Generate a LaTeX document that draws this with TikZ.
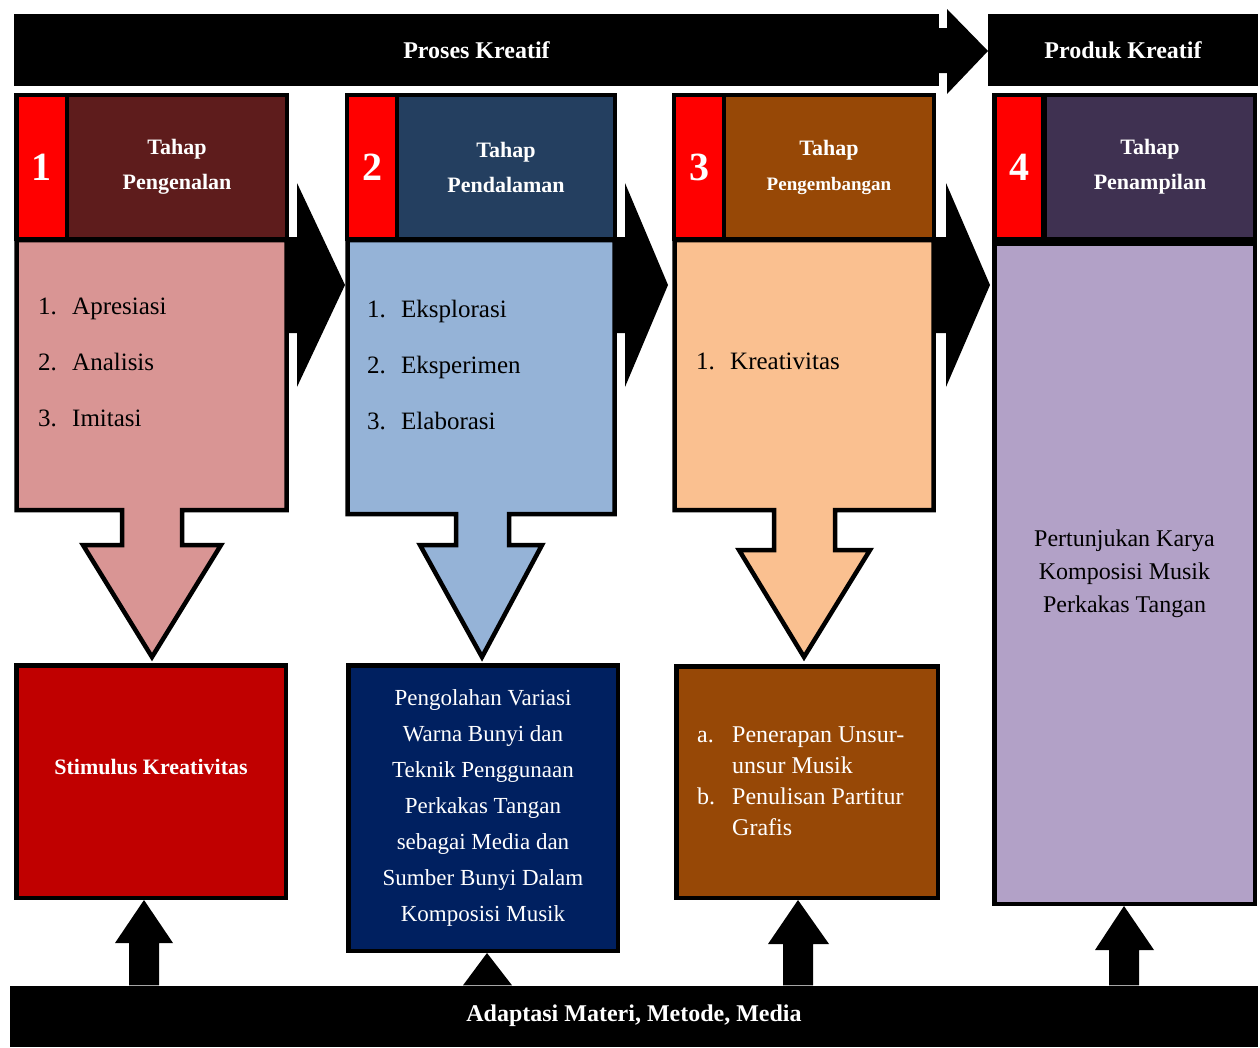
\documentclass[tikz,border=0pt]{standalone}
\usepackage{fontspec}
\setmainfont{Liberation Serif}
\usepackage{tikz}

\definecolor{maroon1}{HTML}{5E1C1C}
\definecolor{navy1}{HTML}{243F60}
\definecolor{brown1}{HTML}{974806}
\definecolor{purple1}{HTML}{3F3151}
\definecolor{pink1}{HTML}{D99594}
\definecolor{blue1}{HTML}{95B3D7}
\definecolor{peach1}{HTML}{FAC090}
\definecolor{lilac1}{HTML}{B2A1C7}
\definecolor{red2}{HTML}{C00000}
\definecolor{navy2}{HTML}{002060}

\newcommand{\lnum}[1]{\makebox[34pt][l]{#1}}

\tikzset{
  bodyline/.style={draw=black, line width=4.5pt, line join=miter},
  numbox/.style={fill=red, text=white, font=\fontsize{40}{40}\selectfont\bfseries, minimum width=46, minimum height=140, inner sep=0pt},
  hdrbox/.style={text=white, font=\fontsize{22}{35}\selectfont\bfseries, align=center, minimum height=140, inner sep=0pt},
  lst/.style={font=\fontsize{25}{56}\selectfont, align=left, anchor=west, inner sep=0pt},
  outbox/.style={draw=black, line width=4.5pt, text=white, align=center, inner sep=0pt},
  blackbar/.style={fill=black, text=white, font=\fontsize{24}{24}\selectfont\bfseries, inner sep=0pt}
}

\begin{document}
\begin{tikzpicture}[x=1pt,y=-1pt]
\useasboundingbox (0,0) rectangle (1260,1047);

\fill (280,237) -- (297,237) -- (297,183) -- (345,285) -- (297,387) -- (297,333) -- (280,333) -- cycle;
\fill (605,237) -- (625,237) -- (625,183) -- (668,285) -- (625,387) -- (625,333) -- (605,333) -- cycle;
\fill (925,237) -- (946,237) -- (946,183) -- (990,285) -- (946,387) -- (946,333) -- (925,333) -- cycle;

\filldraw[bodyline, fill=pink1] (16.5,240) -- (286.5,240) -- (286.5,510) -- (182,510) -- (182,545) -- (221,545) -- (152,657) -- (83,545) -- (122,545) -- (122,510) -- (16.5,510) -- cycle;
\filldraw[bodyline, fill=blue1] (347.5,240) -- (614.5,240) -- (614.5,514) -- (509,514) -- (509,545) -- (542,545) -- (482,657) -- (420,545) -- (456,545) -- (456,514) -- (347.5,514) -- cycle;
\filldraw[bodyline, fill=peach1] (674.5,240) -- (933.5,240) -- (933.5,510) -- (835,510) -- (835,550) -- (870,550) -- (804,657) -- (739,550) -- (774,550) -- (774,510) -- (674.5,510) -- cycle;

\fill (14,93) rectangle (289,241);
\node[numbox] (n1) at (41.5,167) {1};
\node[hdrbox, fill=maroon1, minimum width=216] (h1) at (177,167) {Tahap\\Pengenalan};
\fill (345,93) rectangle (617,241);
\node[numbox] (n2) at (372,167) {2};
\node[hdrbox, fill=navy1, minimum width=214] (h2) at (506,167) {Tahap\\Pendalaman};
\fill (672,93) rectangle (936,241);
\node[numbox] (n3) at (699,167) {3};
\node[hdrbox, fill=brown1, minimum width=206] (h3) at (829,167) {Tahap\\{\fontsize{19}{35}\selectfont Pengembangan}};
\fill (992,93) rectangle (1257,241);
\node[numbox, minimum width=44] (n4) at (1019,167) {4};
\node[hdrbox, fill=purple1, minimum width=206] (h4) at (1150,167) {Tahap\\Penampilan};

\node[outbox, fill=lilac1, text=black, font=\fontsize{24}{33}\selectfont, minimum width=260.5, minimum height=660.5] (b4) at (1124.5,573.5) {Pertunjukan Karya\\Komposisi Musik\\Perkakas Tangan};

\node[lst] (l1) at (38,362) {\lnum{1.}Apresiasi\\\lnum{2.}Analisis\\\lnum{3.}Imitasi};
\node[lst] (l2) at (367,365) {\lnum{1.}Eksplorasi\\\lnum{2.}Eksperimen\\\lnum{3.}Elaborasi};
\node[lst] (l3) at (696,361) {\lnum{1.}Kreativitas};

\node[outbox, fill=red2, font=\fontsize{22}{22}\selectfont\bfseries, text depth=29pt, minimum width=269.5, minimum height=232.5] (stim) at (151,781.5) {Stimulus Kreativitas};
\node[outbox, fill=navy2, font=\fontsize{23}{36}\selectfont, minimum width=269.5, minimum height=285.5] (olah) at (483,808) {Pengolahan Variasi\\Warna Bunyi dan\\Teknik Penggunaan\\Perkakas Tangan\\sebagai Media dan\\Sumber Bunyi Dalam\\Komposisi Musik};
\node[outbox, fill=brown1, minimum width=261.5, minimum height=231.5] (terap) at (807,782) {};
\node[text=white, font=\fontsize{24}{31}\selectfont, align=left, anchor=west, inner sep=0pt] (ab) at (697,781) {\makebox[35pt][l]{a.}Penerapan Unsur-\\\hspace*{35pt}unsur Musik\\\makebox[35pt][l]{b.}Penulisan Partitur\\\hspace*{35pt}Grafis};

\node[blackbar, minimum width=925, minimum height=72] (proses) at (476.5,50) {Proses Kreatif};
\fill (900,28) -- (947,28) -- (947,9) -- (988,51) -- (947,94) -- (947,73) -- (900,73) -- cycle;
\node[blackbar, minimum width=270, minimum height=72] (produk) at (1123,50) {Produk Kreatif};

\node[blackbar, minimum width=1248, minimum height=61] (adapt) at (634,1016) {Adaptasi Materi, Metode, Media};

\fill (129,0 |- adapt.north) -- (129,943) -- (115,943) -- (144,0 |- stim.south) -- (173,943) -- (159,943) -- (159,0 |- adapt.north) -- cycle;
\fill (463,0 |- adapt.north) -- (487,0 |- olah.south) -- (512,0 |- adapt.north) -- cycle;
\fill (783,0 |- adapt.north) -- (783,944) -- (768,944) -- (798,0 |- terap.south) -- (829,944) -- (813,944) -- (813,0 |- adapt.north) -- cycle;
\fill (1109,0 |- adapt.north) -- (1109,950) -- (1095,950) -- (1124,0 |- b4.south) -- (1154,950) -- (1139,950) -- (1139,0 |- adapt.north) -- cycle;
\end{tikzpicture}
\end{document}
